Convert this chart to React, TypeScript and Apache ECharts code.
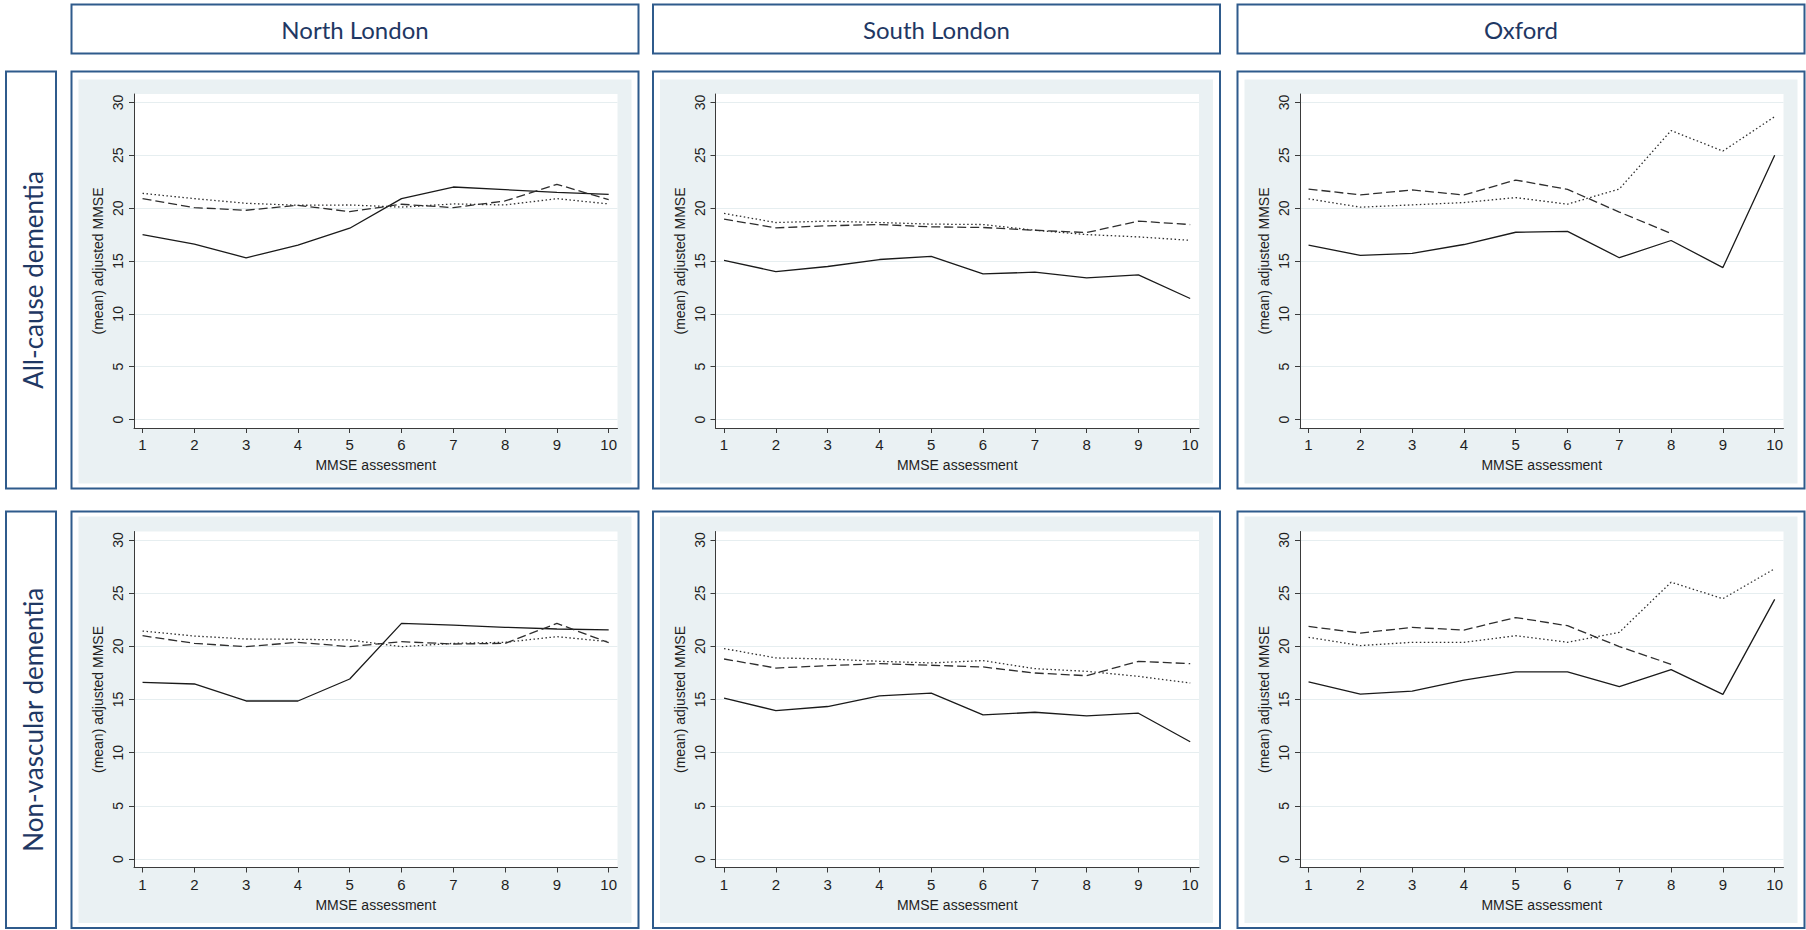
import React, { useEffect, useRef } from "react";
import * as echarts from "echarts";

// ---------- data ----------
const assessments = [1, 2, 3, 4, 5, 6, 7, 8, 9, 10];
const yTickValues = [0, 5, 10, 15, 20, 25, 30];
const sites = ["North London", "South London", "Oxford"];
const cohorts = ["All-cause dementia", "Non-vascular dementia"];
const xTitle = "MMSE assessment";
const yTitle = "(mean) adjusted MMSE";

// All-cause dementia
const northAllSolid = [17.5, 16.6, 15.3, 16.5, 18.1, 20.9, 22.0, 21.75, 21.5, 21.3];
const northAllDashed = [20.9, 20.05, 19.8, 20.27, 19.67, 20.37, 20.05, 20.68, 22.26, 20.8];
const northAllDotted = [21.4, 20.9, 20.46, 20.27, 20.3, 20.1, 20.4, 20.3, 20.9, 20.4];

const southAllSolid = [15.05, 14.0, 14.48, 15.14, 15.43, 13.78, 13.94, 13.4, 13.68, 11.45];
const southAllDashed = [18.96, 18.14, 18.33, 18.45, 18.23, 18.17, 17.91, 17.69, 18.77, 18.45];
const southAllDotted = [19.5, 18.64, 18.77, 18.64, 18.49, 18.45, 17.91, 17.5, 17.28, 16.96];

const oxfordAllSolid = [16.5, 15.53, 15.72, 16.56, 17.72, 17.81, 15.31, 16.94, 14.38, 25.0];
const oxfordAllDashed = [21.81, 21.25, 21.72, 21.25, 22.66, 21.78, 19.63, 17.6];
const oxfordAllDotted = [20.88, 20.09, 20.31, 20.53, 21.0, 20.38, 21.81, 27.34, 25.4, 28.66];

// Non-vascular dementia
const northNvSolid = [16.61, 16.46, 14.86, 14.86, 16.93, 22.16, 22.0, 21.79, 21.63, 21.54];
const northNvDashed = [21.0, 20.28, 19.97, 20.38, 19.97, 20.44, 20.22, 20.28, 22.16, 20.34];
const northNvDotted = [21.44, 20.97, 20.69, 20.66, 20.6, 19.97, 20.28, 20.38, 20.91, 20.44];

const southNvSolid = [15.13, 13.96, 14.34, 15.35, 15.6, 13.55, 13.8, 13.46, 13.71, 11.03];
const southNvDashed = [18.81, 17.96, 18.18, 18.37, 18.22, 18.06, 17.49, 17.24, 18.59, 18.37];
const southNvDotted = [19.79, 18.91, 18.81, 18.59, 18.44, 18.66, 17.9, 17.65, 17.18, 16.55];

const oxfordNvSolid = [16.66, 15.51, 15.79, 16.82, 17.59, 17.59, 16.2, 17.81, 15.48, 24.42];
const oxfordNvDashed = [21.87, 21.25, 21.78, 21.53, 22.71, 21.94, 19.98, 18.31];
const oxfordNvDotted = [20.85, 20.07, 20.38, 20.38, 21.0, 20.38, 21.32, 26.03, 24.48, 27.3];

const panelData = [
  [
    [northAllSolid, northAllDashed, northAllDotted],
    [southAllSolid, southAllDashed, southAllDotted],
    [oxfordAllSolid, oxfordAllDashed, oxfordAllDotted],
  ],
  [
    [northNvSolid, northNvDashed, northNvDotted],
    [southNvSolid, southNvDashed, southNvDotted],
    [oxfordNvSolid, oxfordNvDashed, oxfordNvDotted],
  ],
];

// ---------- layout / style ----------
const COL_LEFT = [71.5, 653, 1237.5];
const ROW_TOP = [71.5, 511.5];
const PANEL_W = 567;
const PANEL_H = [417, 416.5];
const GRID_TOP_OFF = [22.5, 20];
const GRID_H = [334, 336];
const GRID_LEFT_OFF = 62.5;
const GRID_W = 483.5;
const GREY_TOP_OFF = [8, 5];
const BORDER = "#2F5B8C";
const NAVY = "#1F3864";
const GREY_BG = "#EAF1F3";
const GRID_LINE = "#E6EEF0";
const AXIS_COLOR = "#3A3A3A";
const LINE_COLOR = ["#1A1A1A", "#2E2E2E", "#2E2E2E"];
const LINE_TYPE: any[] = ["solid", [9, 4], [1.5, 2.5]];
const LINE_NAMES = ["Solid line", "Dashed line", "Dotted line"];
const AXIS_FONT = "'Liberation Sans', Arial, sans-serif";
const BOX_FONT = "Lato, 'Open Sans', sans-serif";

function buildOption() {
  const grids: any[] = [];
  const xAxes: any[] = [];
  const yAxes: any[] = [];
  const series: any[] = [];
  const graphics: any[] = [];

  // header boxes
  sites.forEach((s, c) => {
    graphics.push({
      type: "rect",
      z: -10,
      shape: { x: COL_LEFT[c], y: 4.5, width: PANEL_W, height: 49 },
      style: { fill: "#fff", stroke: BORDER, lineWidth: 2 },
    });
    graphics.push({
      type: "text",
      z: 10,
      x: COL_LEFT[c] + PANEL_W / 2,
      y: 29.5,
      style: {
        text: s,
        fill: NAVY,
        font: `normal 24px ${BOX_FONT}`,
        textAlign: "center",
        textVerticalAlign: "middle",
        align: "center",
        verticalAlign: "middle",
      },
    });
  });

  cohorts.forEach((cohort, r) => {
    // row label box
    graphics.push({
      type: "rect",
      z: -10,
      shape: { x: 6, y: ROW_TOP[r], width: 50, height: PANEL_H[r] },
      style: { fill: "#fff", stroke: BORDER, lineWidth: 2 },
    });
    graphics.push({
      type: "text",
      z: 10,
      x: 33,
      y: ROW_TOP[r] + PANEL_H[r] / 2,
      rotation: Math.PI / 2,
      style: {
        text: cohort,
        fill: NAVY,
        font: `normal 26px ${BOX_FONT}`,
        textAlign: "center",
        textVerticalAlign: "middle",
        align: "center",
        verticalAlign: "middle",
      },
    });

    sites.forEach((_s, c) => {
      const idx = r * 3 + c;
      const px = COL_LEFT[c];
      const py = ROW_TOP[r];
      const ph = PANEL_H[r];
      // panel border
      graphics.push({
        type: "rect",
        z: -10,
        shape: { x: px, y: py, width: PANEL_W, height: ph },
        style: { fill: "#fff", stroke: BORDER, lineWidth: 2 },
      });
      // grey region
      graphics.push({
        type: "rect",
        z: -9,
        shape: {
          x: px + 7,
          y: py + GREY_TOP_OFF[r],
          width: PANEL_W - 14,
          height: ph - GREY_TOP_OFF[r] - 5,
        },
        style: { fill: GREY_BG },
      });
      const gl = px + GRID_LEFT_OFF;
      const gt = py + GRID_TOP_OFF[r];
      // white plot region
      graphics.push({
        type: "rect",
        z: -8,
        shape: { x: gl, y: gt, width: GRID_W, height: GRID_H[r] },
        style: { fill: "#fff" },
      });

      grids.push({
        left: gl,
        top: gt,
        width: GRID_W,
        height: GRID_H[r],
        containLabel: false,
        outerBoundsMode: "none",
      });

      xAxes.push({
        gridIndex: idx,
        type: "value",
        min: 0.835,
        max: 10.17,
        splitNumber: 9,
        axisLine: { show: true, onZero: false, lineStyle: { color: AXIS_COLOR, width: 1 } },
        axisTick: {
          show: true,
          length: 5,
          customValues: assessments,
          lineStyle: { color: AXIS_COLOR, width: 1 },
        },
        axisLabel: {
          customValues: assessments,
          margin: 9,
          fontSize: 15,
          color: "#1E1E1E",
          fontFamily: AXIS_FONT,
          formatter: (v: number) => (Number.isInteger(v) ? String(v) : ""),
        },
        splitLine: { show: false },
        name: xTitle,
        nameLocation: "middle",
        nameGap: 30,
        nameTextStyle: { fontSize: 14, color: "#1E1E1E", fontFamily: AXIS_FONT },
      });

      yAxes.push({
        gridIndex: idx,
        type: "value",
        min: -0.8,
        max: 30.8,
        splitNumber: 6,
        axisLine: { show: true, onZero: false, lineStyle: { color: AXIS_COLOR, width: 1 } },
        axisTick: {
          show: true,
          length: 5,
          customValues: yTickValues,
          lineStyle: { color: AXIS_COLOR, width: 1 },
        },
        axisLabel: {
          customValues: yTickValues,
          rotate: 90,
          margin: 9,
          fontSize: 14,
          color: "#1E1E1E",
          fontFamily: AXIS_FONT,
          formatter: (v: number) =>
            Number.isInteger(v) && v % 5 === 0 && v >= 0 ? String(v) : "",
        },
        splitLine: { show: true, lineStyle: { color: GRID_LINE, width: 1 } },
        name: yTitle,
        nameLocation: "middle",
        nameGap: 29,
        nameTextStyle: { fontSize: 14, color: "#1E1E1E", fontFamily: AXIS_FONT },
      });

      panelData[r][c].forEach((vals, k) => {
        series.push({
          name: `${sites[c]} – ${cohort} – ${LINE_NAMES[k]}`,
          type: "line",
          xAxisIndex: idx,
          yAxisIndex: idx,
          showSymbol: false,
          symbol: "none",
          silent: true,
          z: 5,
          lineStyle: { color: LINE_COLOR[k], width: 1.3, type: LINE_TYPE[k] },
          data: vals.map((v, i) => [assessments[i], v]),
        });
      });
    });
  });

  return {
    animation: false,
    backgroundColor: "#ffffff",
    textStyle: { fontFamily: AXIS_FONT },
    grid: grids,
    xAxis: xAxes,
    yAxis: yAxes,
    series,
    graphic: { elements: graphics },
  };
}

export default function App() {
  const ref = useRef<HTMLDivElement>(null);
  useEffect(() => {
    if (!ref.current) return;
    const chart = echarts.init(ref.current, null, { renderer: "svg" });
    chart.setOption(buildOption() as any);
    return () => chart.dispose();
  }, []);
  return (
    <div
      ref={ref}
      style={{ position: "fixed", left: 0, top: 0, width: 1806, height: 930, background: "#fff" }}
    />
  );
}
